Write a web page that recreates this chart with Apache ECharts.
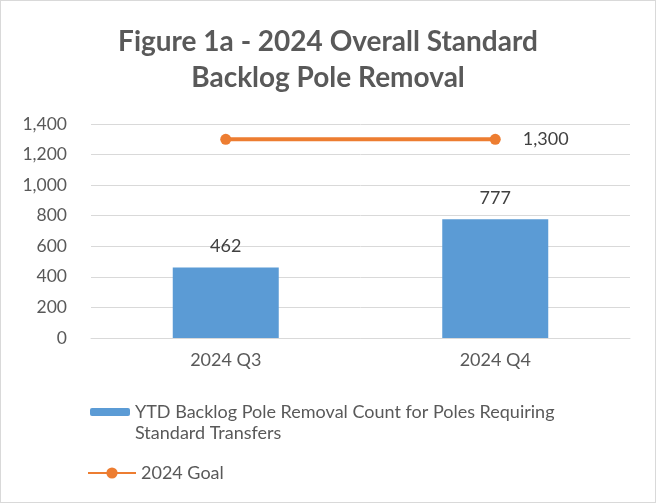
<!DOCTYPE html>
<html>
<head>
<meta charset="utf-8">
<script src="https://cdn.jsdelivr.net/npm/echarts@6/dist/echarts.min.js"></script>
<style>
  html, body { margin: 0; padding: 0; background: #fff; }
  #chart { width: 654px; height: 501px; border: 1px solid #d9d9d9; }
</style>
</head>
<body>
<div id="chart"></div>
<script>
// data
var categories = ["2024 Q3", "2024 Q4"];
var removalCounts = [462, 777];
var goalValues = [1300, 1300];
var barName = "YTD Backlog Pole Removal Count for Poles Requiring Standard Transfers";
var goalName = "2024 Goal";

var chart = echarts.init(document.getElementById("chart"));
var font = "Lato, 'Open Sans', sans-serif";
var grey = "#595959";

var option = {
  animation: false,
  textStyle: { fontFamily: font },
  title: {
    text: "Figure 1a - 2024 Overall Standard\nBacklog Pole Removal",
    left: "center",
    top: 18,
    textStyle: { fontFamily: font, fontSize: 28, fontWeight: "bold", color: grey, lineHeight: 36 }
  },
  legend: [
    {
      data: [barName],
      left: 84, top: 397,
      itemWidth: 40, itemHeight: 8, itemGap: 5,
      formatter: function () { return "YTD Backlog Pole Removal Count for Poles Requiring"; },
      textStyle: { fontSize: 18, color: grey, fontFamily: font }
    },
    {
      data: [goalName],
      left: 81, top: 458,
      itemWidth: 48, itemHeight: 14, itemGap: 2,
      textStyle: { fontSize: 18, color: grey, fontFamily: font }
    }
  ],
  // second line of the wrapped legend entry
  graphic: [{
    type: "text",
    left: 134, top: 423,
    style: { text: "Standard Transfers", fontSize: 18, fill: grey, fontFamily: font }
  }],
  grid: { left: 90, right: 25, top: 123, bottom: 164, containLabel: false },
  xAxis: {
    type: "category",
    data: categories,
    axisLine: { lineStyle: { color: "#d9d9d9" } },
    axisTick: { show: false },
    axisLabel: { color: grey, fontSize: 18, margin: 13, fontFamily: font }
  },
  yAxis: {
    type: "value",
    min: 0, max: 1400, interval: 200,
    axisLabel: {
      color: grey, fontSize: 17.5, margin: 24, fontFamily: font,
      formatter: function (v) { return v.toLocaleString("en-US"); }
    },
    splitLine: { lineStyle: { color: "#d9d9d9" } }
  },
  series: [
    {
      name: barName,
      type: "bar",
      data: removalCounts,
      barWidth: 106,
      itemStyle: { color: "#5b9bd5" },
      label: { show: true, position: "top", distance: 12, color: "#404040", fontSize: 18, fontFamily: font }
    },
    {
      name: goalName,
      type: "line",
      data: goalValues,
      symbol: "circle",
      symbolSize: 11,
      lineStyle: { color: "#ed7d31", width: 4 },
      itemStyle: { color: "#ed7d31" },
      label: {
        show: true, position: "right", distance: 22, color: "#404040", fontSize: 18, fontFamily: font,
        formatter: function (p) { return p.dataIndex === goalValues.length - 1 ? p.value.toLocaleString("en-US") : ""; }
      }
    }
  ]
};

chart.setOption(option);
</script>
</body>
</html>
